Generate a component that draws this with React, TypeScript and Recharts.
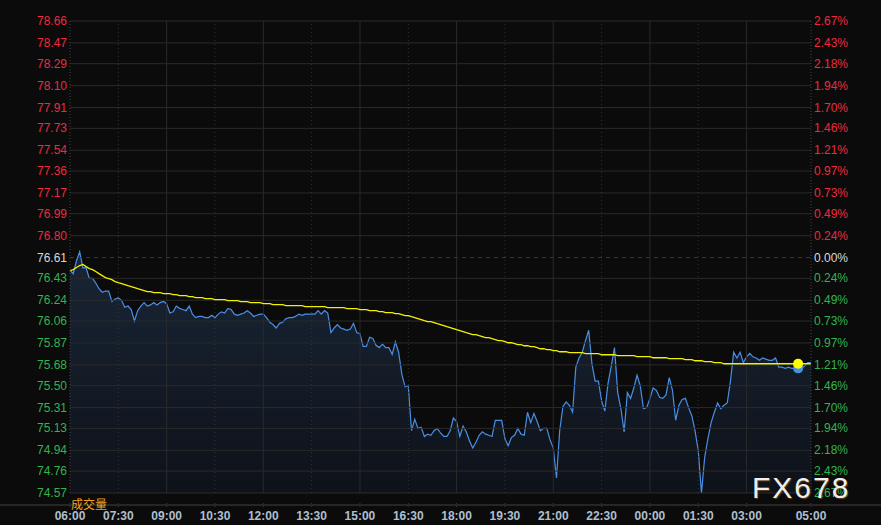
import React from "react";
import {
  Area,
  ComposedChart,
  Line,
  ReferenceDot,
  ReferenceLine,
  XAxis,
  YAxis,
} from "recharts";

// 分时数据：06:00 起每 6 分钟一个点
const STEP_MIN = 6;
const OPEN = 76.61;

const PRICES = [
  76.50, 76.47, 76.58, 76.66, 76.52, 76.52, 76.43, 76.43, 76.39, 76.34,
  76.31, 76.32, 76.32, 76.23, 76.25, 76.26, 76.24, 76.18, 76.19, 76.16,
  76.06, 76.15, 76.19, 76.22, 76.19, 76.20, 76.22, 76.20, 76.22, 76.23,
  76.21, 76.13, 76.14, 76.19, 76.17, 76.16, 76.15, 76.19, 76.12, 76.09,
  76.10, 76.10, 76.09, 76.09, 76.11, 76.09, 76.12, 76.14, 76.13, 76.17,
  76.16, 76.12, 76.11, 76.12, 76.13, 76.15, 76.13, 76.10, 76.11, 76.12,
  76.12, 76.09, 76.05, 76.03, 76.00, 76.04, 76.05, 76.08, 76.09, 76.09,
  76.10, 76.12, 76.11, 76.12, 76.12, 76.12, 76.12, 76.15, 76.12, 76.15,
  76.13, 75.96, 76.00, 76.03, 76.00, 75.99, 75.98, 75.99, 76.04, 75.96,
  75.95, 75.84, 75.84, 75.92, 75.91, 75.85, 75.83, 75.86, 75.83, 75.83,
  75.77, 75.88, 75.79, 75.60, 75.49, 75.50, 75.11, 75.21, 75.13, 75.14,
  75.06, 75.08, 75.07, 75.11, 75.13, 75.09, 75.06, 75.06, 75.11, 75.22,
  75.19, 75.06, 75.15, 75.10, 75.02, 74.96, 75.01, 75.07, 75.10, 75.08,
  75.07, 75.06, 75.20, 75.20, 75.20, 75.04, 74.98, 75.05, 75.07, 75.13,
  75.08, 75.07, 75.27, 75.18, 75.26, 75.19, 75.11, 75.13, 75.13, 75.03,
  74.96, 74.70, 75.11, 75.32, 75.36, 75.33, 75.27, 75.66, 75.74, 75.79,
  75.89, 75.98, 75.69, 75.54, 75.54, 75.37, 75.28, 75.52, 75.67, 75.83,
  75.44, 75.30, 75.10, 75.44, 75.39, 75.48, 75.59, 75.50, 75.30, 75.31,
  75.39, 75.48, 75.46, 75.40, 75.39, 75.42, 75.57, 75.46, 75.20, 75.33,
  75.38, 75.39, 75.31, 75.24, 75.11, 74.94, 74.57, 74.88, 75.04, 75.18,
  75.27, 75.35, 75.30, 75.33, 75.35, 75.54, 75.79, 75.74, 75.79, 75.70,
  75.75, 75.78, 75.75, 75.74, 75.72, 75.74, 75.73, 75.72, 75.72, 75.74,
  75.66, 75.66, 75.65, 75.66, 75.65, 75.65, 75.65, 75.65, 75.67, 75.70,
  75.70,
];

// 均价线
const AVG = [
  76.497, 76.506, 76.524, 76.541, 76.550, 76.532, 76.515, 76.506, 76.489, 76.471,
  76.454, 76.437, 76.428, 76.419, 76.402, 76.393, 76.385, 76.376, 76.367, 76.359,
  76.350, 76.341, 76.333, 76.324, 76.315, 76.315, 76.306, 76.306, 76.306, 76.298,
  76.298, 76.298, 76.289, 76.289, 76.280, 76.280, 76.280, 76.272, 76.272, 76.263,
  76.263, 76.263, 76.254, 76.254, 76.254, 76.246, 76.246, 76.246, 76.246, 76.237,
  76.237, 76.237, 76.237, 76.228, 76.228, 76.228, 76.220, 76.220, 76.220, 76.220,
  76.211, 76.211, 76.211, 76.202, 76.202, 76.202, 76.202, 76.194, 76.194, 76.194,
  76.194, 76.194, 76.194, 76.185, 76.185, 76.185, 76.185, 76.185, 76.185, 76.185,
  76.176, 76.176, 76.176, 76.176, 76.176, 76.176, 76.168, 76.168, 76.168, 76.168,
  76.159, 76.159, 76.159, 76.150, 76.150, 76.150, 76.142, 76.142, 76.133, 76.133,
  76.133, 76.124, 76.124, 76.116, 76.107, 76.107, 76.098, 76.090, 76.081, 76.072,
  76.063, 76.055, 76.055, 76.046, 76.037, 76.029, 76.020, 76.011, 76.003, 75.994,
  75.985, 75.977, 75.968, 75.959, 75.951, 75.942, 75.942, 75.933, 75.925, 75.916,
  75.916, 75.907, 75.899, 75.890, 75.890, 75.881, 75.872, 75.872, 75.864, 75.855,
  75.855, 75.846, 75.846, 75.838, 75.838, 75.829, 75.820, 75.820, 75.812, 75.812,
  75.803, 75.803, 75.794, 75.794, 75.794, 75.786, 75.786, 75.786, 75.786, 75.786,
  75.777, 75.777, 75.777, 75.777, 75.777, 75.768, 75.768, 75.768, 75.768, 75.768,
  75.760, 75.760, 75.760, 75.760, 75.760, 75.760, 75.751, 75.751, 75.751, 75.751,
  75.751, 75.742, 75.742, 75.742, 75.742, 75.742, 75.734, 75.734, 75.734, 75.734,
  75.734, 75.725, 75.725, 75.725, 75.716, 75.716, 75.716, 75.708, 75.708, 75.708,
  75.699, 75.699, 75.699, 75.690, 75.690, 75.690, 75.690, 75.690, 75.690, 75.690,
  75.690, 75.690, 75.690, 75.690, 75.690, 75.690, 75.690, 75.690, 75.690, 75.690,
  75.690, 75.690, 75.690, 75.690, 75.690, 75.690, 75.690, 75.690, 75.690, 75.690,
  75.690,
];

const Y_TICKS = [
  78.66, 78.47, 78.29, 78.10, 77.91, 77.73, 77.54, 77.36, 77.17, 76.99, 76.80,
  76.61, 76.43, 76.24, 76.06, 75.87, 75.68, 75.50, 75.31, 75.13, 74.94, 74.76, 74.57,
];
const PCT_LABELS = [
  "2.67%", "2.43%", "2.18%", "1.94%", "1.70%", "1.46%", "1.21%", "0.97%", "0.73%", "0.49%", "0.24%",
  "0.00%", "0.24%", "0.49%", "0.73%", "0.97%", "1.21%", "1.46%", "1.70%", "1.94%", "2.18%", "2.43%", "2.67%",
];

const X_TICKS = [0, 90, 180, 270, 360, 450, 540, 630, 720, 810, 900, 990, 1080, 1170, 1260, 1380];
const X_LABELS = [
  "06:00", "07:30", "09:00", "10:30", "12:00", "13:30", "15:00", "16:30",
  "18:00", "19:30", "21:00", "22:30", "00:00", "01:30", "03:00", "05:00",
];

const LAST_MIN = 1356;
const LAST_PRICE = 75.65;
const LAST_AVG = 75.69;

const FONT = "Arial, 'Liberation Sans', sans-serif";
const BG = "#0b0b0b";
const GRID = "#2a2a2a";
const RED = "#ec2a40";
const GREEN = "#32b350";
const FLAT = "#d8d8d8";

const tickColor = (v: number) => (v > OPEN + 0.001 ? RED : v < OPEN - 0.001 ? GREEN : FLAT);

const data = PRICES.map((p, i) => ({ t: i * STEP_MIN, price: p, avg: AVG[i] }));

function LeftTick({ y, payload }: any) {
  return (
    <text x={67} y={y} dy={4} textAnchor="end" fontSize={12} fontFamily={FONT} fill={tickColor(payload.value)}>
      {payload.value.toFixed(2)}
    </text>
  );
}

function RightTick({ y, payload }: any) {
  const i = Y_TICKS.indexOf(payload.value);
  return (
    <text x={814} y={y} dy={4} textAnchor="start" fontSize={12} fontFamily={FONT} fill={tickColor(payload.value)}>
      {PCT_LABELS[i]}
    </text>
  );
}

function TimeTick({ x, payload }: any) {
  const i = X_TICKS.indexOf(payload.value);
  return (
    <g>
      <line x1={x} x2={x} y1={503} y2={507} stroke="#3a3a3a" />
      <text x={x} y={520} textAnchor="middle" fontSize={12} fontWeight="bold" fontFamily={FONT} fill="#aebfd0">
        {X_LABELS[i]}
      </text>
    </g>
  );
}

export default function App() {
  return (
    <div style={{ position: "relative", width: 881, height: 525, background: BG, overflow: "hidden" }}>
      <style>{`body{margin:0;background:${BG}}`}</style>
      <ComposedChart width={881} height={525} data={data} margin={{ top: 21, right: 0, bottom: 0, left: 0 }}>
        <defs>
          <linearGradient id="priceFill" x1="0" y1="0" x2="0" y2="1">
            <stop offset="0%" stopColor="#192536" />
            <stop offset="100%" stopColor="#0e1219" />
          </linearGradient>
        </defs>
        <XAxis
          dataKey="t"
          type="number"
          domain={[0, 1380]}
          ticks={X_TICKS}
          interval={0}
          height={32}
          axisLine={false}
          tickLine={false}
          tick={<TimeTick />}
        />
        <YAxis
          yAxisId="left"
          type="number"
          domain={[74.57, 78.66]}
          ticks={Y_TICKS}
          interval={0}
          width={70}
          allowDataOverflow
          axisLine={{ stroke: "#444", strokeDasharray: "1 2" }}
          tickLine={false}
          tick={<LeftTick />}
        />
        <YAxis
          yAxisId="right"
          orientation="right"
          type="number"
          domain={[74.57, 78.66]}
          ticks={Y_TICKS}
          interval={0}
          width={70}
          allowDataOverflow
          axisLine={{ stroke: "#444", strokeDasharray: "1 2" }}
          tickLine={false}
          tick={<RightTick />}
        />
        {Y_TICKS.map((v) => (
          <ReferenceLine
            key={`h${v}`}
            yAxisId="left"
            y={v}
            stroke={v === OPEN ? "#3a3a3a" : GRID}
            strokeDasharray={v === OPEN ? "4 4" : undefined}
          />
        ))}
        {X_TICKS.filter((t) => t > 0 && t < 1380).map((t) => (
          <ReferenceLine
            key={`v${t}`}
            yAxisId="left"
            x={t}
            stroke={t % 180 === 0 ? GRID : "#333"}
            strokeDasharray={t % 180 === 0 ? undefined : "1 3"}
          />
        ))}
        <Area
          yAxisId="left"
          type="linear"
          dataKey="price"
          stroke="#4a8fe6"
          strokeWidth={1.2}
          fill="url(#priceFill)"
          fillOpacity={1}
          isAnimationActive={false}
        />
        <Line
          yAxisId="left"
          type="linear"
          dataKey="avg"
          stroke="#f2f200"
          strokeWidth={1.3}
          dot={false}
          isAnimationActive={false}
        />
        <ReferenceDot yAxisId="left" x={LAST_MIN} y={LAST_PRICE} r={5} fill="#4a8fe6" stroke="none" />
        <ReferenceDot yAxisId="left" x={LAST_MIN} y={LAST_AVG} r={5} fill="#ffff00" stroke="none" />
      </ComposedChart>
      <div style={{ position: "absolute", left: 0, top: 504, width: 881, height: 2, background: "#262626" }} />
      <div
        style={{
          position: "absolute",
          left: 71,
          top: 497,
          fontSize: 12,
          lineHeight: "14px",
          color: "#f0a020",
          fontFamily: "'Noto Sans CJK SC', sans-serif",
        }}
      >
        成交量
      </div>
      <div
        style={{
          position: "absolute",
          left: 752,
          top: 473,
          fontSize: 30,
          lineHeight: "30px",
          letterSpacing: 2,
          color: "#eeeeee",
          fontFamily: FONT,
          textShadow: "1px 1px 1px rgba(110,70,30,0.9)",
        }}
      >
        FX678
      </div>
    </div>
  );
}
